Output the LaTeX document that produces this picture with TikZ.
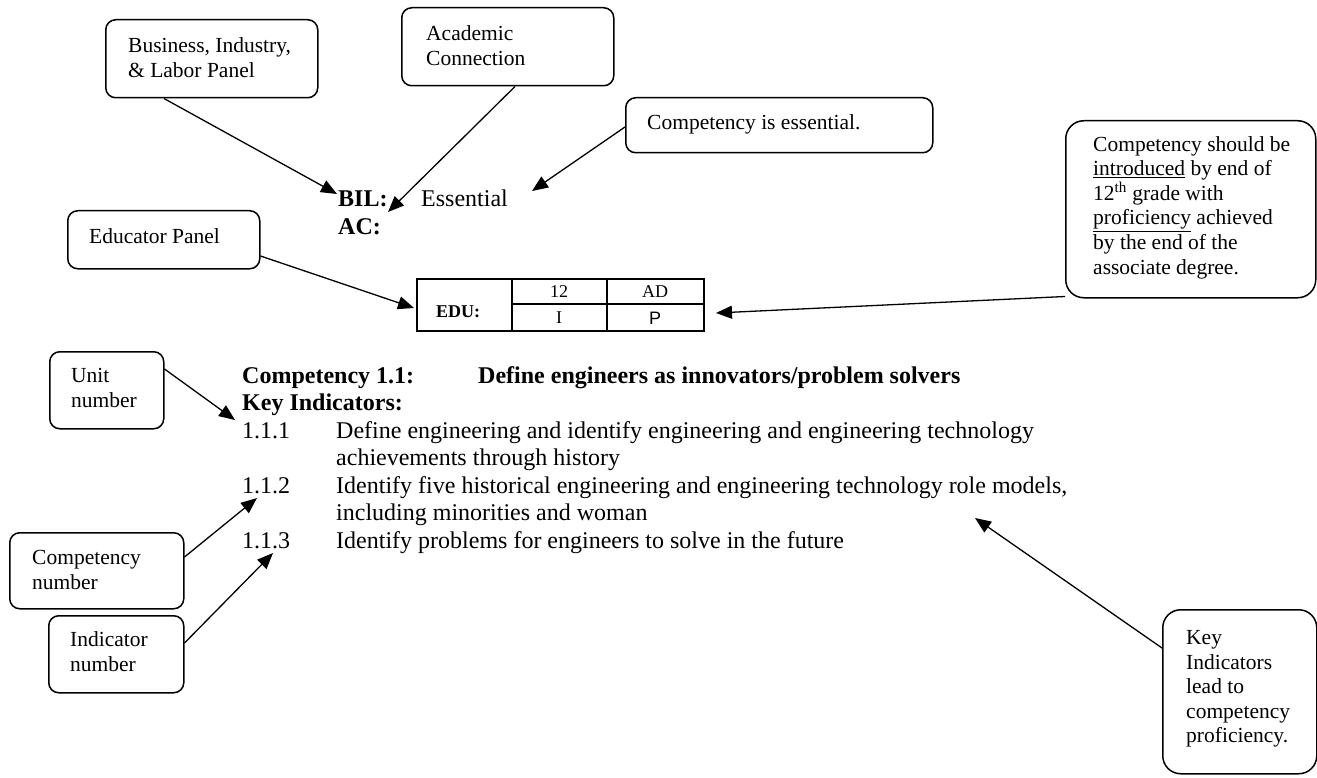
\documentclass[tikz,border=0pt]{standalone}
\usepackage{fontspec}
\setmainfont{Liberation Serif}
\newfontfamily\arialfont{Liberation Sans}
\usetikzlibrary{arrows.meta,calc}
\begin{document}
\begin{tikzpicture}[x=1pt,y=-1pt,
  panel/.style={draw, line width=1.5pt, rounded corners=10pt, anchor=north west, inner sep=0pt},
  bigpanel/.style={panel, rounded corners=18pt},
  ptr/.style={line width=1.3pt, -{Triangle[length=16pt,width=13pt]}},
  boxtxt/.style={anchor=base west, inner sep=0pt, font=\fontsize{21.5}{25}\selectfont},
  body/.style={anchor=base west, inner sep=0pt, font=\fontsize{24}{27.5}\selectfont},
  bodyb/.style={anchor=base west, inner sep=0pt, font=\fontsize{24}{27.5}\selectfont\bfseries},
  cell/.style={inner sep=0pt, font=\fontsize{18}{20}\selectfont},
  grid/.style={line width=1.3pt},
]
\fill[white] (0,0) rectangle (1317,778);
\useasboundingbox (0,0) rectangle (1317,778);

% ---------- callout boxes ----------
\node[panel, minimum width=212pt, minimum height=78pt] (bizbox) at (105,19) {};
\node[boxtxt] (biz1) at (128,52.5) {Business, Industry,};
\node[boxtxt] (biz2) at (128,77.5) {\& Labor Panel};

\node[panel, minimum width=212pt, minimum height=78pt] (acbox) at (401,7) {};
\node[boxtxt] (ac1) at (426,40.5) {Academic};
\node[boxtxt] (ac2) at (426,65.5) {Connection};

\node[panel, minimum width=307pt, minimum height=55pt] (essbox) at (625,97) {};
\node[boxtxt] (ess1) at (647,129.5) {Competency is essential.};

\node[panel, minimum width=192pt, minimum height=58pt] (edubox) at (67,210) {};
\node[boxtxt] (edu1) at (89,243.5) {Educator Panel};

\node[bigpanel, minimum width=250pt, minimum height=177pt] (compbox) at (1065,120) {};
\node[boxtxt] (cp1) at (1093,151.5) {Competency should be};
\node[boxtxt] (cp2) at (1093,176) {\underline{introduced} by end of};
\node[boxtxt] (cp3) at (1093,200.5) {12\textsuperscript{th} grade with};
\node[boxtxt] (cp4) at (1093,225) {\underline{proficiency} achieved};
\node[boxtxt] (cp5) at (1093,249.5) {by the end of the};
\node[boxtxt] (cp6) at (1093,274) {associate degree.};

\node[panel, minimum width=114pt, minimum height=77pt] (unitbox) at (49,351) {};
\node[boxtxt] (un1) at (71,382.5) {Unit};
\node[boxtxt] (un2) at (71,407.5) {number};

\node[panel, minimum width=174pt, minimum height=76pt] (cnumbox) at (9,532) {};
\node[boxtxt] (cn1) at (32,564.5) {Competency};
\node[boxtxt] (cn2) at (32,589) {number};

\node[panel, minimum width=135pt, minimum height=77pt] (inumbox) at (48,615) {};
\node[boxtxt] (in1) at (70,646.5) {Indicator};
\node[boxtxt] (in2) at (70,671.5) {number};

\node[bigpanel, minimum width=154pt, minimum height=164pt] (kibox) at (1162,609) {};
\node[boxtxt] (ki1) at (1186,644.5) {Key};
\node[boxtxt] (ki2) at (1186,669) {Indicators};
\node[boxtxt] (ki3) at (1186,693.5) {lead to};
\node[boxtxt] (ki4) at (1186,718) {competency};
\node[boxtxt] (ki5) at (1186,742.5) {proficiency.};

% ---------- rating lines ----------
\node[bodyb] (bil) at (338,207) {BIL:};
\node[body] (essential) at (421,207) {Essential};
\node[bodyb] (acl) at (338,235) {AC:};

% ---------- EDU table ----------
\node[draw, line width=1.8pt, anchor=north west, inner sep=0pt,
      minimum width=287pt, minimum height=52pt] (edutab) at (416,278) {};
\draw[grid] (512,278) -- (512,330);
\draw[grid] (607,278) -- (607,330);
\draw[grid] (512,304) -- (703,304);
\node[cell, font=\fontsize{18}{20}\selectfont\bfseries] (eduhd) at (458,312) {EDU:};
\node[cell] (c12) at (559,292) {12};
\node[cell] (cad) at (655,292) {AD};
\node[cell] (ci) at (559,318) {I};
\node[cell, font=\fontsize{18}{20}\selectfont\arialfont] (cp) at (655,318) {P};

% ---------- competency listing ----------
\node[bodyb] (comp) at (242,383) {Competency 1.1:};
\node[bodyb] (comptitle) at (478,383) {Define engineers as innovators/problem solvers};
\node[bodyb] (keyind) at (242,410.5) {Key Indicators:};
\node[body] (n111) at (242,438) {1.1.1};
\node[body] (t111a) at (336,438) {Define engineering and identify engineering and engineering technology};
\node[body] (t111b) at (336,465.5) {achievements through history};
\node[body] (n112) at (242,493) {1.1.2};
\node[body] (t112a) at (336,493) {Identify five historical engineering and engineering technology role models,};
\node[body] (t112b) at (336,520.5) {including minorities and woman};
\node[body] (n113) at (242,548) {1.1.3};
\node[body] (t113a) at (336,548) {Identify problems for engineers to solve in the future};

% ---------- arrow tips ----------
\coordinate (tipbil) at (337,194);
\coordinate (tipac) at (388,212);
\coordinate (tipess) at (532,191);
\coordinate (tipedu) at (414,308);
\coordinate (tipcomp) at (716,313);
\coordinate (tipunit) at (235,420);
\coordinate (tipcn) at (257,498);
\coordinate (tipin) at (273,553);
\coordinate (tipki) at (975,518);

% ---------- connectors ----------
\draw[ptr] ($(bizbox.south west)+(59,0)$) -- (tipbil);
\draw[ptr] ($(acbox.south west)+(114,0)$) -- (tipac);
\draw[ptr] ($(essbox.north west)+(0,30)$) -- (tipess);
\draw[ptr] ($(edubox.north east)+(0,46)$) -- (tipedu);
\draw[ptr] ($(compbox.south west)+(0,-2)$) -- (tipcomp);
\draw[ptr] ($(unitbox.north east)+(0,18)$) -- (tipunit);
\draw[ptr] ($(cnumbox.north east)+(0,25)$) -- (tipcn);
\draw[ptr] ($(inumbox.north east)+(0,28)$) -- (tipin);
\draw[ptr] ($(kibox.north west)+(0,39)$) -- (tipki);
\end{tikzpicture}
\end{document}
